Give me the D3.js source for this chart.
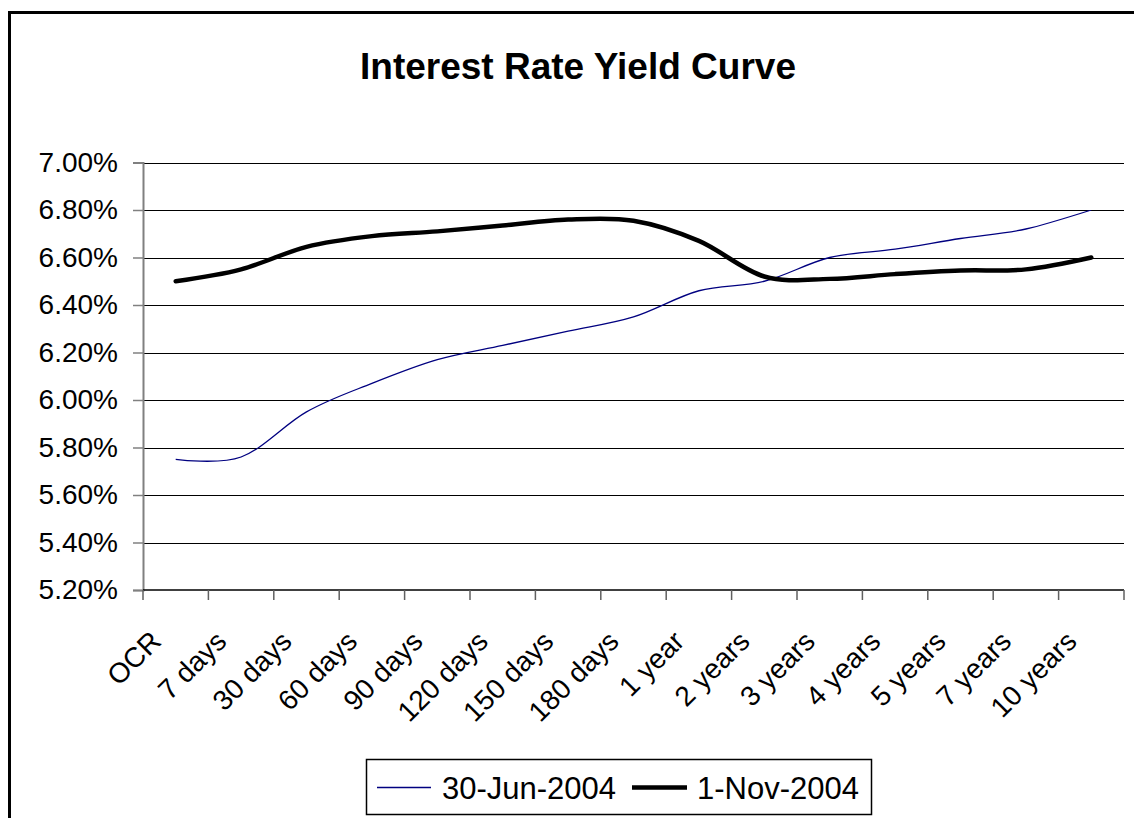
<!DOCTYPE html>
<html>
<head>
<meta charset="utf-8">
<script src="https://cdn.jsdelivr.net/npm/d3@7"></script>
<style>
  html, body { margin: 0; padding: 0; background: #fff; }
  svg { display: block; font-family: "Liberation Sans", Arial, sans-serif; }
</style>
</head>
<body>
<script>
const categories = ["OCR", "7 days", "30 days", "60 days", "90 days", "120 days", "150 days", "180 days",
  "1 year", "2 years", "3 years", "4 years", "5 years", "7 years", "10 years"];
const seriesNames = ["30-Jun-2004", "1-Nov-2004"];
const jun2004 = [5.75, 5.76, 5.95, 6.07, 6.17, 6.23, 6.29, 6.35, 6.46, 6.50, 6.60, 6.635, 6.68, 6.72, 6.80];
const nov2004 = [6.50, 6.55, 6.645, 6.69, 6.71, 6.735, 6.76, 6.755, 6.67, 6.52, 6.51, 6.53, 6.545, 6.55, 6.60];
const yTicks = [5.20, 5.40, 5.60, 5.80, 6.00, 6.20, 6.40, 6.60, 6.80, 7.00];
const titleText = "Interest Rate Yield Curve";

const W = 1134, H = 818;
const svg = d3.select("body").append("svg").attr("width", W).attr("height", H);

// outer chart frame (extends past the picture on right/bottom)
svg.append("rect").attr("x", 9.5).attr("y", 12.5).attr("width", 1300).attr("height", 1000)
  .attr("fill", "#fff").attr("stroke", "#000").attr("stroke-width", 3);

const plot = { left: 143, right: 1124, top: 162.5, bottom: 590 };
const x = d3.scaleBand().domain(categories).range([plot.left, plot.right]);
const cx = c => x(c) + x.bandwidth() / 2;
const y = d3.scaleLinear().domain([5.2, 7.0]).range([plot.bottom, plot.top]);

// title
svg.append("text").attr("x", 578).attr("y", 79).attr("text-anchor", "middle")
  .attr("font-size", 37).attr("font-weight", "bold").text(titleText);

// gridlines
svg.append("g").selectAll("line").data(yTicks.filter(v => v > 5.2)).join("line")
  .attr("x1", plot.left).attr("x2", plot.right)
  .attr("y1", d => Math.round(y(d)) + 0.5).attr("y2", d => Math.round(y(d)) + 0.5)
  .attr("stroke", "#000").attr("stroke-width", 1);

// y axis
const yAxis = svg.append("g").attr("transform", `translate(${plot.left},0)`)
  .call(d3.axisLeft(y).tickValues(yTicks).tickSize(10).tickPadding(15)
    .tickFormat(d => d3.format(".2f")(d) + "%"));
yAxis.select(".domain").attr("stroke", "#808080").attr("stroke-width", 2);
yAxis.selectAll(".tick line").attr("stroke", "#808080").attr("stroke-width", 1.5);
yAxis.selectAll(".tick text").attr("font-size", 28).attr("fill", "#000")
  .attr("font-family", "Liberation Sans, Arial, sans-serif");

// x axis
const xg = svg.append("g");
xg.append("line").attr("x1", plot.left).attr("x2", plot.right)
  .attr("y1", plot.bottom).attr("y2", plot.bottom).attr("stroke", "#000").attr("stroke-width", 1.5);
const edges = categories.map(c => x(c)).concat([x.range()[1]]);
xg.selectAll("line.tk").data(edges).join("line").attr("class", "tk")
  .attr("x1", d => d).attr("x2", d => d).attr("y1", plot.bottom).attr("y2", plot.bottom + 10)
  .attr("stroke", "#606060").attr("stroke-width", 1.5);
xg.selectAll("text").data(categories).join("text")
  .attr("text-anchor", "end").attr("font-size", 28)
  .attr("transform", d => `translate(${cx(d) - 13},643) rotate(-45)`)
  .text(d => d);

// lines
const line = d3.line().x((d, i) => cx(categories[i])).y(d => y(d)).curve(d3.curveCardinal.tension(0));
svg.append("path").datum(jun2004).attr("d", line).attr("fill", "none")
  .attr("stroke", "#000080").attr("stroke-width", 1.3);
svg.append("path").datum(nov2004).attr("d", line).attr("fill", "none")
  .attr("stroke", "#000").attr("stroke-width", 4.5).attr("stroke-linejoin", "round").attr("stroke-linecap", "round");

// legend
const lg = svg.append("g");
lg.append("rect").attr("x", 366.5).attr("y", 759.5).attr("width", 505).attr("height", 55)
  .attr("fill", "#fff").attr("stroke", "#000").attr("stroke-width", 1.5);
lg.append("line").attr("x1", 377).attr("x2", 431).attr("y1", 787.5).attr("y2", 787.5)
  .attr("stroke", "#000080").attr("stroke-width", 1.3);
lg.append("text").attr("x", 442).attr("y", 799).attr("font-size", 31).text(seriesNames[0]);
lg.append("line").attr("x1", 632).attr("x2", 687).attr("y1", 787.5).attr("y2", 787.5)
  .attr("stroke", "#000").attr("stroke-width", 4.5);
lg.append("text").attr("x", 697).attr("y", 799).attr("font-size", 31).text(seriesNames[1]);
</script>
</body>
</html>
